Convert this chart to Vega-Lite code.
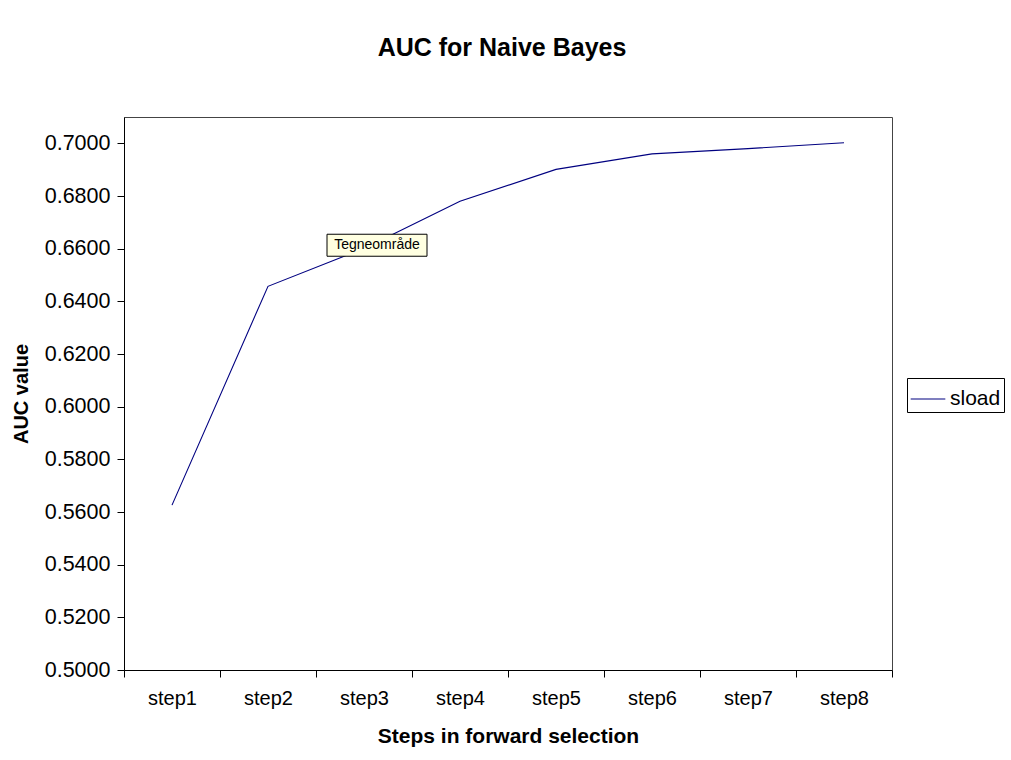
{
  "$schema": "https://vega.github.io/schema/vega-lite/v6.json",
  "autosize": "none",
  "width": 768,
  "height": 553,
  "padding": {"left": 124, "top": 117, "right": 119, "bottom": 90},
  "background": "white",
  "config": {
    "font": "Liberation Sans",
    "view": {"stroke": "#444444", "strokeWidth": 1}
  },
  "title": {
    "text": "AUC for Naive Bayes",
    "fontSize": 25,
    "fontWeight": "bold",
    "font": "Liberation Sans",
    "color": "black",
    "anchor": "middle",
    "dx": -6,
    "offset": 56
  },
  "datasets": {
    "auc": [
      {"step": "step1", "AUC": 0.5626, "series": "sload"},
      {"step": "step2", "AUC": 0.6457, "series": "sload"},
      {"step": "step3", "AUC": 0.6601, "series": "sload"},
      {"step": "step4", "AUC": 0.6780, "series": "sload"},
      {"step": "step5", "AUC": 0.6901, "series": "sload"},
      {"step": "step6", "AUC": 0.6960, "series": "sload"},
      {"step": "step7", "AUC": 0.6980, "series": "sload"},
      {"step": "step8", "AUC": 0.7002, "series": "sload"}
    ],
    "note": [
      {"step": "step3", "AUC": 0.6613, "label": "Tegneområde"}
    ]
  },
  "layer": [
    {
      "data": {"name": "auc"},
      "mark": {"type": "line", "strokeWidth": 1.1},
      "encoding": {
        "x": {
          "field": "step",
          "type": "ordinal",
          "scale": {"type": "band", "paddingInner": 0, "paddingOuter": 0},
          "axis": {
            "title": "Steps in forward selection",
            "titleFontSize": 21,
            "titleFontWeight": "bold",
            "titleColor": "black",
            "titlePadding": 17,
            "labelAngle": 0,
            "labelFontSize": 20,
            "labelColor": "black",
            "labelPadding": 11,
            "tickBand": "extent",
            "tickSize": 7,
            "tickColor": "black",
            "domainColor": "black",
            "grid": false
          }
        },
        "y": {
          "field": "AUC",
          "type": "quantitative",
          "scale": {"domain": [0.5, 0.71], "nice": false, "zero": false},
          "axis": {
            "title": "AUC value",
            "titleFontSize": 20,
            "titleFontWeight": "bold",
            "titleColor": "black",
            "titlePadding": 13,
            "values": [0.5, 0.52, 0.54, 0.56, 0.58, 0.6, 0.62, 0.64, 0.66, 0.68, 0.7],
            "format": ".4f",
            "labelFontSize": 21.5,
            "labelColor": "black",
            "labelPadding": 7,
            "tickSize": 7,
            "tickColor": "black",
            "domainColor": "black",
            "grid": false
          }
        },
        "color": {
          "field": "series",
          "type": "nominal",
          "scale": {"range": ["#000080"]},
          "legend": {
            "title": null,
            "orient": "none",
            "legendX": 783,
            "legendY": 261,
            "symbolType": "stroke",
            "symbolSize": 1200,
            "symbolStrokeWidth": 1.1,
            "labelFontSize": 21,
            "labelColor": "black",
            "strokeColor": "black",
            "padding": 3,
            "labelOffset": 4
          }
        }
      }
    },
    {
      "data": {"name": "note"},
      "mark": {
        "type": "point",
        "shape": "M-1,-0.22L1,-0.22L1,0.22L-1,0.22Z",
        "size": 10000,
        "filled": true,
        "fill": "#FFFFE1",
        "stroke": "black",
        "strokeWidth": 1,
        "opacity": 1,
        "xOffset": 13
      },
      "encoding": {
        "x": {"field": "step", "type": "ordinal"},
        "y": {"field": "AUC", "type": "quantitative"}
      }
    },
    {
      "data": {"name": "note"},
      "mark": {
        "type": "text",
        "fontSize": 14,
        "font": "Liberation Sans",
        "color": "black",
        "dx": 13
      },
      "encoding": {
        "x": {"field": "step", "type": "ordinal"},
        "y": {"field": "AUC", "type": "quantitative"},
        "text": {"field": "label"}
      }
    }
  ]
}
